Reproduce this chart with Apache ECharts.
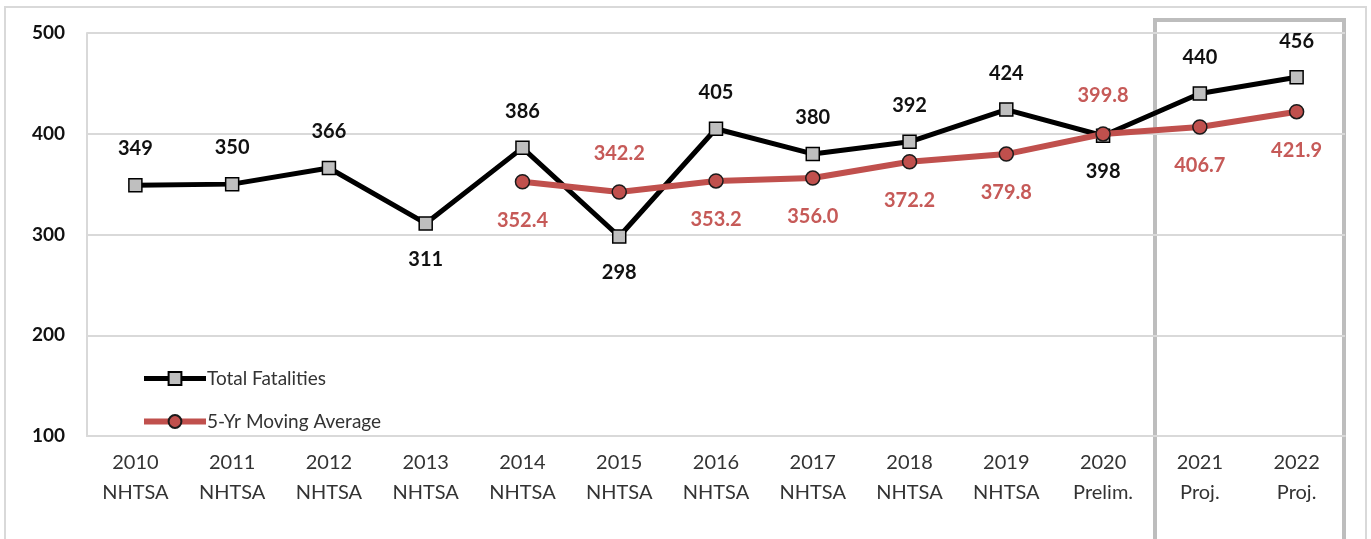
<!DOCTYPE html>
<html>
<head>
<meta charset="utf-8">
<script src="https://cdn.jsdelivr.net/npm/echarts@6/dist/echarts.min.js"></script>
<style>
  html, body { margin: 0; padding: 0; background: #fff; }
  #chart { width: 1371px; height: 539px; }
</style>
</head>
<body>
<div id="chart"></div>
<script>
const years = ['2010\nNHTSA', '2011\nNHTSA', '2012\nNHTSA', '2013\nNHTSA', '2014\nNHTSA', '2015\nNHTSA',
  '2016\nNHTSA', '2017\nNHTSA', '2018\nNHTSA', '2019\nNHTSA', '2020\nPrelim.', '2021\nProj.', '2022\nProj.']
const totalFatalities = [349, 350, 366, 311, 386, 298, 405, 380, 392, 424, 398, 440, 456]
const movingAverage = [null, null, null, null, 352.4, 342.2, 353.2, 356.0, 372.2, 379.8, 399.8, 406.7, 421.9]

// which labels sit under the point
const totalBelow = [3, 5, 10]
const avgAbove = [5, 10]

const chart = echarts.init(document.getElementById('chart'))
const font = 'Lato, "Open Sans", sans-serif'

const option = {
  backgroundColor: '#fff',
  animation: false,
  textStyle: { fontFamily: font },
  grid: { left: 87, right: 26, top: 33, bottom: 103 },
  legend: {
    orient: 'vertical',
    left: 136,
    top: 364,
    itemWidth: 62,
    itemHeight: 16,
    itemGap: 24,
    textStyle: { fontSize: 19, color: '#333', fontFamily: font, padding: [0, 0, 0, -4] },
    data: [
      { name: 'Total Fatalities', lineStyle: { width: 5, color: '#000' } },
      { name: '5-Yr Moving Average', lineStyle: { width: 6, color: '#c0504d' } }
    ]
  },
  xAxis: {
    type: 'category',
    data: years,
    axisLine: { lineStyle: { color: '#d9d9d9', width: 2 } },
    axisTick: { alignWithLabel: true, length: 5, lineStyle: { color: '#d9d9d9', width: 2 } },
    axisLabel: { fontSize: 20, color: '#333', lineHeight: 30, margin: 12, fontFamily: font }
  },
  yAxis: {
    type: 'value',
    min: 100,
    max: 500,
    interval: 100,
    axisLine: { show: true, lineStyle: { color: '#d9d9d9', width: 2 } },
    axisTick: { show: false },
    axisLabel: { fontSize: 19, fontWeight: 'bold', color: '#111', margin: 22, fontFamily: font },
    splitLine: { lineStyle: { color: '#d9d9d9', width: 2 } }
  },
  series: [
    {
      name: 'Total Fatalities',
      type: 'line',
      z: 2,
      symbol: 'rect',
      symbolSize: 13,
      lineStyle: { color: '#000', width: 5 },
      itemStyle: { color: '#bfbfbf', borderColor: '#000', borderWidth: 1.5 },
      label: { show: true, position: 'top', distance: 19, fontSize: 20, fontWeight: 'bold', color: '#111', fontFamily: font },
      data: totalFatalities.map((v, i) => totalBelow.includes(i)
        ? { value: v, label: { position: 'bottom' } }
        : v)
    },
    {
      name: '5-Yr Moving Average',
      type: 'line',
      z: 3,
      symbol: 'circle',
      symbolSize: 14,
      lineStyle: { color: '#c0504d', width: 6 },
      itemStyle: { color: '#c0504d', borderColor: '#1a1a1a', borderWidth: 1.5 },
      label: {
        show: true, position: 'bottom', distance: 21, fontSize: 20, fontWeight: 'bold', color: '#c65a58', fontFamily: font,
        formatter: p => p.value == null ? '' : Number(p.value).toFixed(1)
      },
      data: movingAverage.map((v, i) => avgAbove.includes(i)
        ? { value: v, label: { position: 'top' } }
        : v)
    }
  ],
  graphic: [
    {
      type: 'rect',
      shape: { x: 5, y: 7, width: 1361, height: 545 },
      style: { fill: 'none', stroke: '#d9d9d9', lineWidth: 2 },
      silent: true
    },
    {
      type: 'rect',
      shape: { x: 1155, y: 20, width: 189, height: 530 },
      style: { fill: 'none', stroke: '#bdbdbd', lineWidth: 4 },
      silent: true
    }
  ]
}

chart.setOption(option)
</script>
</body>
</html>
